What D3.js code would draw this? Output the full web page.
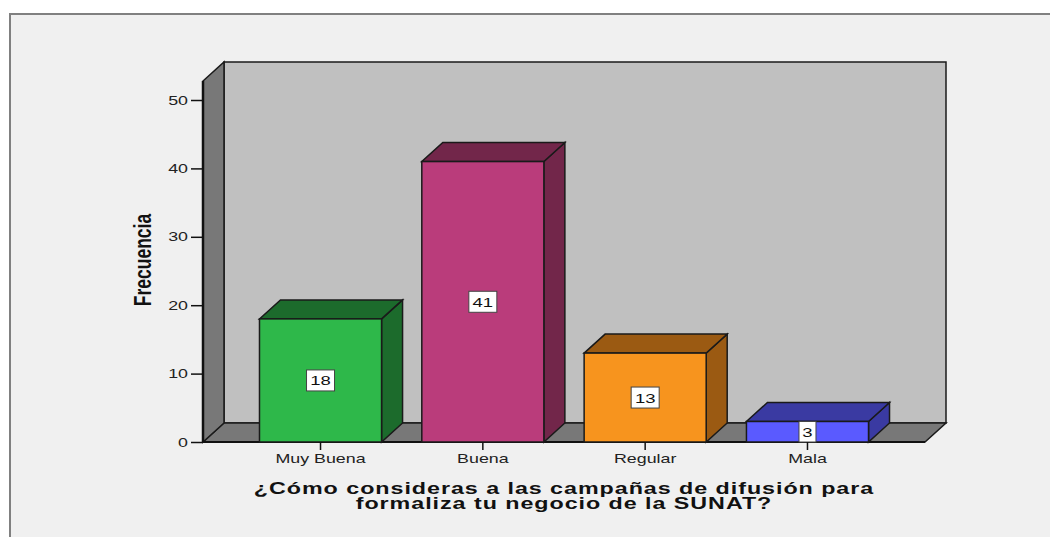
<!DOCTYPE html>
<html>
<head>
<meta charset="utf-8">
<script src="https://cdn.jsdelivr.net/npm/d3@7"></script>
<style>
  body { margin: 0; background: #fff; }
  svg { display: block; }
  text { font-family: "Liberation Sans", Arial, sans-serif; }
</style>
</head>
<body>
<svg id="chart" width="1050" height="537"></svg>
<script>
// datos del gráfico
const categories = ["Muy Buena", "Buena", "Regular", "Mala"];
const counts = [18, 41, 13, 3];
const yTicks = [0, 10, 20, 30, 40, 50];
const frontColors = ["#2eb84a", "#ba3c7b", "#f7941e", "#5a5aff"];
const sideColors = ["#1c6b2c", "#72264a", "#9b5a12", "#3a3aa2"];
const titleLines = ["¿Cómo consideras a las campañas de difusión para",
                    "formaliza tu negocio de la SUNAT?"];
const yTitle = "Frecuencia";

// el original está estirado en horizontal
const stretch = 1.37;

const svg = d3.select("#chart");

// panel de fondo
svg.append("rect")
  .attr("x", 10).attr("y", 14).attr("width", 1060).attr("height", 540)
  .attr("fill", "#f0f0f0")
  .attr("stroke", "#808080").attr("stroke-width", 2);

// escalas
const left = 203, right = 925, base = 442;
const dx = 21, dy = 19;  // profundidad 3D

const x = d3.scaleBand()
  .domain(categories)
  .range([left, right])
  .paddingInner(0.248)
  .paddingOuter(0.348);

const y = d3.scaleLinear()
  .domain([0, 50])
  .range([base, 100]);

const wallTop = y(50) - 19;

const pts = a => a.map(p => p.join(",")).join(" ");
const g = svg.append("g");

// pared del fondo
g.append("polygon")
  .attr("points", pts([[left + dx, base - dy], [right + dx, base - dy],
                       [right + dx, wallTop - dy], [left + dx, wallTop - dy]]))
  .attr("fill", "#c0c0c0").attr("stroke", "#1a1a1a").attr("stroke-width", 1.5);

// piso
g.append("polygon")
  .attr("points", pts([[left, base], [right, base],
                       [right + dx, base - dy], [left + dx, base - dy]]))
  .attr("fill", "#787878").attr("stroke", "#1a1a1a").attr("stroke-width", 1.5);

// pared izquierda
g.append("polygon")
  .attr("points", pts([[left, base], [left, wallTop],
                       [left + dx, wallTop - dy], [left + dx, base - dy]]))
  .attr("fill", "#787878").attr("stroke", "#1a1a1a").attr("stroke-width", 1.5);

// eje y
g.append("line")
  .attr("x1", left).attr("x2", left).attr("y1", wallTop).attr("y2", base)
  .attr("stroke", "#111").attr("stroke-width", 2.5);
g.append("line")
  .attr("x1", left).attr("x2", right).attr("y1", base).attr("y2", base)
  .attr("stroke", "#111").attr("stroke-width", 2);

const yAxis = g.append("g").attr("transform", `translate(${left},0)`)
  .call(d3.axisLeft(y).tickValues(yTicks).tickSize(12).tickPadding(3));
yAxis.select(".domain").remove();
yAxis.selectAll(".tick line").attr("stroke", "#111").attr("stroke-width", 1.5);
yAxis.selectAll(".tick text")
  .attr("font-size", 13).attr("fill", "#222")
  .attr("x", -15 / stretch)
  .attr("transform", `scale(${stretch},1)`)
  .style("font-family", "'Liberation Sans', Arial, sans-serif");

// barras
const bars = g.selectAll(".bar").data(categories).join("g").attr("class", "bar");

bars.each(function(c, i) {
  const b = d3.select(this);
  const x0 = x(c), x1 = x(c) + x.bandwidth(), yt = y(counts[i]);
  // cara lateral
  b.append("polygon")
    .attr("points", pts([[x1, base], [x1, yt], [x1 + dx, yt - dy], [x1 + dx, base - dy]]))
    .attr("fill", sideColors[i]).attr("stroke", "#1a1a1a").attr("stroke-width", 1.5);
  // cara superior
  b.append("polygon")
    .attr("points", pts([[x0, yt], [x1, yt], [x1 + dx, yt - dy], [x0 + dx, yt - dy]]))
    .attr("fill", sideColors[i]).attr("stroke", "#1a1a1a").attr("stroke-width", 1.5);
  // cara frontal
  b.append("rect")
    .attr("x", x0).attr("y", yt).attr("width", x.bandwidth()).attr("height", base - yt)
    .attr("fill", frontColors[i]).attr("stroke", "#1a1a1a").attr("stroke-width", 1.5);

  // etiqueta del valor
  const label = String(counts[i]);
  const w = label.length > 1 ? 28 : 17;
  const h = Math.min(21, base - yt);
  const cx = x0 + x.bandwidth() / 2, cy = (yt + base) / 2;
  b.append("rect")
    .attr("x", cx - w / 2).attr("y", cy - h / 2).attr("width", w).attr("height", h)
    .attr("fill", "#fff").attr("stroke", "#444").attr("stroke-width", 1);
  b.append("text")
    .attr("transform", `translate(${cx},${cy + 5}) scale(${stretch},1)`)
    .attr("text-anchor", "middle").attr("font-size", 13.5).attr("fill", "#111")
    .text(label);
});

// eje x
const xAxis = g.append("g").attr("transform", `translate(0,${base})`)
  .call(d3.axisBottom(x).tickSize(8).tickPadding(4));
xAxis.select(".domain").remove();
xAxis.selectAll(".tick line").attr("stroke", "#111").attr("stroke-width", 1.5);
xAxis.selectAll(".tick text")
  .attr("font-size", 13).attr("fill", "#222")
  .attr("transform", `scale(${stretch},1)`)
  .style("font-family", "'Liberation Sans', Arial, sans-serif");

// título del eje x
const titleX = (left + right) / 2;
svg.append("text")
  .attr("transform", `translate(${titleX},494) scale(${stretch},1)`)
  .attr("text-anchor", "middle")
  .attr("font-size", 17).attr("font-weight", "bold").attr("letter-spacing", 0.7)
  .attr("fill", "#111")
  .selectAll("tspan").data(titleLines).join("tspan")
  .attr("x", 0).attr("dy", (d, i) => i === 0 ? 0 : 15.5)
  .text(d => d);

// título del eje y
svg.append("text")
  .attr("transform", `translate(151,260) rotate(-90) scale(1,${stretch})`)
  .attr("text-anchor", "middle")
  .attr("font-size", 17.5).attr("font-weight", "bold")
  .attr("fill", "#111")
  .text(yTitle);
</script>
</body>
</html>
